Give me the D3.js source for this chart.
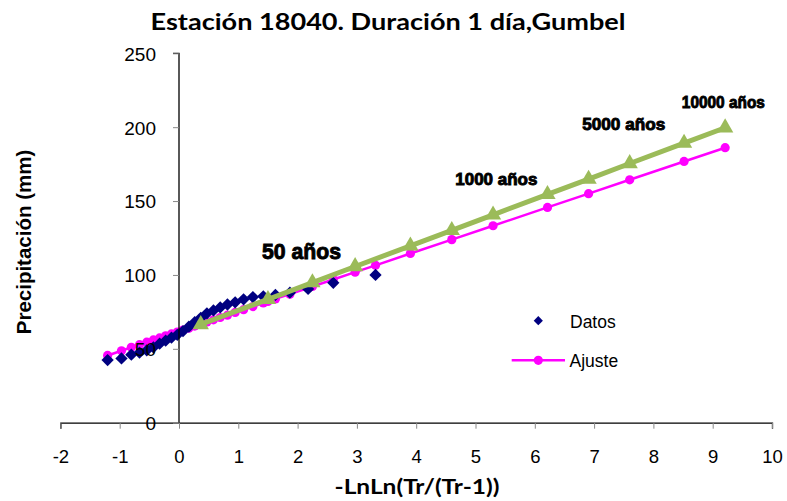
<!DOCTYPE html>
<html><head><meta charset="utf-8">
<script src="https://cdn.jsdelivr.net/npm/d3@7"></script>
<style>body{margin:0;background:#fff}</style>
</head><body>
<svg id="c" width="787" height="501"></svg>
<script>
// Datos (Weibull plotting positions, n = 27)
const datosX = [-1.204,-0.970,-0.804,-0.666,-0.544,-0.432,-0.327,-0.225,-0.127,-0.029,0.068,0.166,0.265,0.367,0.471,0.581,0.695,0.817,0.947,1.089,1.246,1.422,1.626,1.870,2.177,2.602,3.314];
const datosY = [42.4,43.5,46.0,47.5,49.0,51.0,53.5,55.5,57.5,59.5,62.0,65.0,68.0,71.0,74.0,76.0,78.0,80.0,81.5,83.5,85.0,85.5,86.5,88.0,90.5,94.7,100.0];
// Ajuste evaluated at the data positions
const ajusteDatosY = [45.5,48.7,51.0,52.8,54.5,56.0,57.4,58.8,60.1,61.4,62.7,64.0,65.4,66.8,68.2,69.6,71.2,72.8,74.6,76.5,78.6,81.0,83.8,87.0,91.2,96.9,106.5];
// Return periods
const trX = [0.367,1.500,2.250,2.970,3.902,4.600,5.296,6.214,6.907,7.600,8.517,9.210];
const ajusteTrY = [66.8,82.1,92.2,101.9,114.5,123.9,133.3,145.7,155.0,164.4,176.8,186.1];
const superiorY = [66.5,83.5,94.8,105.7,119.7,130.2,140.7,154.5,164.9,175.4,189.2,199.6];
const xTicks = [-2,-1,0,1,2,3,4,5,6,7,8,9,10];
const yTicks = [0,50,100,150,200,250];
const annotations = [
  {text:"50 años", x:1.40, y:111, size:21.5, len:79},
  {text:"1000 años", x:4.66, y:161, size:16.5, len:82},
  {text:"5000 años", x:6.80, y:198, size:16.5, len:83},
  {text:"10000 años", x:8.48, y:213, size:16.5, len:83}
];
const titleText = "Estación 18040. Duración 1 día,Gumbel";

const svg = d3.select("#c");
const x = d3.scaleLinear().domain([-2,10]).range([60.4,772]);
const y = d3.scaleLinear().domain([0,250]).range([422.7,53.3]);
const g = svg.append("g");

// Ajuste series (magenta)
const ajuste = datosX.map((v,i)=>[v,ajusteDatosY[i]]).concat(trX.map((v,i)=>[v,ajusteTrY[i]])).sort((a,b)=>a[0]-b[0]);
const line = d3.line().x(d=>x(d[0])).y(d=>y(d[1]));
g.append("path").datum(ajuste).attr("d",line).attr("fill","none").attr("stroke","#FF00FF").attr("stroke-width",2.5);
g.selectAll(".aj").data(ajuste).join("circle").attr("cx",d=>x(d[0])).attr("cy",d=>y(d[1])).attr("r",4.6).attr("fill","#FF00FF");

// Datos (navy diamonds)
const diamond = d3.symbol().type(d3.symbolDiamond2).size(96);
g.selectAll(".dt").data(datosX.map((v,i)=>[v,datosY[i]])).join("path")
  .attr("d",diamond).attr("transform",d=>`translate(${x(d[0])},${y(d[1])})`)
  .attr("fill","#000080");

// Green series
const sup = trX.map((v,i)=>[v,superiorY[i]]);
g.append("path").datum(sup).attr("d",line).attr("fill","none").attr("stroke","#9BBB59").attr("stroke-width",5);
const tri = d3.symbol().type(d3.symbolTriangle).size(115);
g.selectAll(".tr").data(sup).join("path").attr("d",tri)
  .attr("transform",d=>`translate(${x(d[0])},${y(d[1])})`).attr("fill","#9BBB59");

// Axes
const font = "'Liberation Sans', Arial, sans-serif";
const xAxis = d3.axisBottom(x).tickValues(xTicks).tickSize(6).tickFormat(d3.format("d"));
const xa = svg.append("g").attr("transform",`translate(0,${y(0)})`).call(xAxis);
xa.select(".domain").attr("stroke","#000").attr("stroke-width",1.3);
xa.selectAll(".tick line").attr("stroke","#888");
xa.selectAll(".tick text").attr("font-family",font).attr("font-size",18.5).attr("fill","#000").attr("y",27).attr("dy","0.71em").text(d=>d<0?"-"+Math.abs(d):d);

const yAxis = d3.axisLeft(y).tickValues(yTicks).tickSize(6);
const ya = svg.append("g").attr("transform",`translate(${x(0)},0)`).call(yAxis);
ya.select(".domain").attr("stroke","#000").attr("stroke-width",1.3).attr("d",`M-6,${y(250)}H0V${y(0)}`);
ya.selectAll(".tick line").attr("stroke","#888");
ya.selectAll(".tick text").attr("font-family",font).attr("font-size",19).attr("fill","#000").attr("x",-23).attr("dy","0.36em");

// Annotations
svg.selectAll(".ann").data(annotations).join("text")
  .attr("x",d=>x(d.x)).attr("y",d=>y(d.y))
  .attr("font-family",font).attr("font-weight","bold")
  .attr("font-size",d=>d.size)
  .attr("textLength",d=>d.len).attr("lengthAdjust","spacingAndGlyphs")
  .attr("stroke","#000").attr("stroke-width",0.9)
  .attr("fill","#000").text(d=>d.text);

// Legend
const lg = svg.append("g");
lg.append("path").attr("d",d3.symbol().type(d3.symbolDiamond2).size(54)).attr("transform","translate(538.3,320.7)").attr("fill","#000080");
lg.append("text").attr("x",570).attr("y",327.5).attr("font-family",font).attr("font-size",17.5).text("Datos");
lg.append("line").attr("x1",511.7).attr("x2",565).attr("y1",360.3).attr("y2",360.3).attr("stroke","#FF00FF").attr("stroke-width",2.5);
lg.append("circle").attr("cx",538.3).attr("cy",360.3).attr("r",4.6).attr("fill","#FF00FF");
lg.append("text").attr("x",569.5).attr("y",366.5).attr("font-family",font).attr("font-size",17.5).text("Ajuste");

// Titles
svg.append("text").attr("x",388).attr("y",30).attr("text-anchor","middle")
  .attr("font-family","Lato, 'Open Sans', sans-serif").attr("font-weight","bold").attr("font-size",23)
  .attr("textLength",475).attr("lengthAdjust","spacingAndGlyphs").text(titleText);
svg.append("text").attr("x",417).attr("y",494).attr("text-anchor","middle")
  .attr("font-family","Lato, 'Open Sans', sans-serif").attr("font-weight","bold").attr("font-size",21)
  .attr("textLength",165).attr("lengthAdjust","spacingAndGlyphs").text("-LnLn(Tr/(Tr-1))");
svg.append("text").attr("transform","translate(31,242) rotate(-90)").attr("text-anchor","middle")
  .attr("font-family",font).attr("font-weight","bold").attr("font-size",20.5)
  .text("Precipitación (mm)");
</script>
</body></html>
